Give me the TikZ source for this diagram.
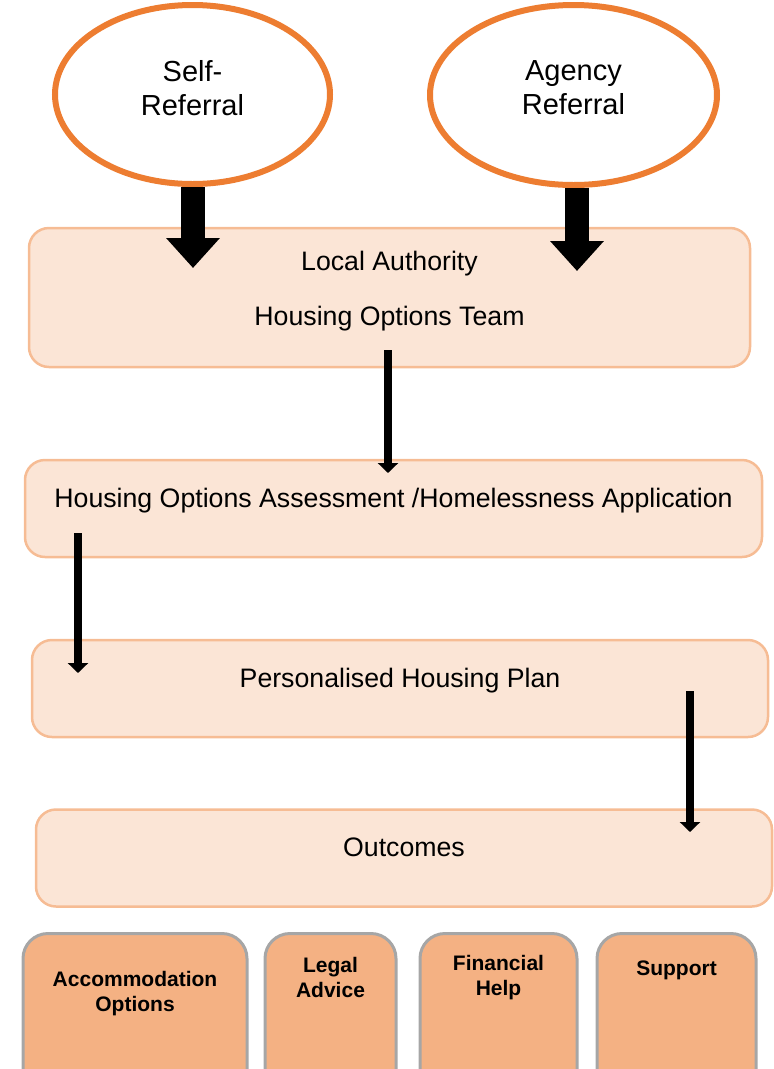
\documentclass[tikz,border=0pt]{standalone}
\usepackage{fontspec}
\setmainfont{Liberation Sans}
\usepackage{xcolor}
\usetikzlibrary{shapes.geometric}
\usetikzlibrary{arrows.meta}
\definecolor{refline}{HTML}{ED7D31}
\definecolor{stagefill}{HTML}{FBE5D6}
\definecolor{stageline}{HTML}{F6BC94}
\definecolor{optfill}{HTML}{F4B183}
\definecolor{optline}{HTML}{A6A6A6}
\tikzset{
referral/.style={
  ellipse,
  draw=refline,
  line width=6pt,
  fill=white,
  inner sep=0pt,
  minimum width=275pt,
  minimum height=179pt
},
reflabel/.style={inner sep=0pt,align=center,anchor=north,yshift=-58pt,font=\fontsize{29}{34}\selectfont},
stage/.style={
  rectangle,
  rounded corners=20pt,
  draw=stageline,
  line width=2.5pt,
  fill=stagefill,
  inner sep=0pt,
  minimum height=97pt,
  font=\fontsize{26.7}{31}\selectfont
},
oneline/.style={text height=19pt,text depth=22pt},
option/.style={
  rectangle,
  rounded corners=25pt,
  draw=optline,
  line width=3pt,
  fill=optfill,
  inner sep=0pt,
  anchor=north,
  minimum height=180pt
},
optlabel/.style={inner sep=0pt,align=center,anchor=north,font=\bfseries\fontsize{21}{25}\selectfont},
bigarrow/.style={line width=24pt,-{Triangle[width=52pt,length=30pt]}},
smallarrow/.style={line width=8.5pt,-{Triangle[width=20pt,length=10pt]}},
}

\begin{document}
\begin{tikzpicture}[x=1pt,y=-1pt]
\clip (0,0) rectangle (774,1069);
% the referrals
\node[referral,label={[reflabel]north:Self-\\Referral}] (self) at (192.5,94.5) {};
\node[referral,minimum width=287pt,minimum height=180pt,
  label={[reflabel]north:Agency\\Referral}] (agency) at (573.5,95) {};
% the stages
\node[stage,minimum width=721pt,minimum height=139pt,
  label={[inner sep=0pt,align=center,anchor=north,yshift=-24pt,
  font=\fontsize{26.7}{55}\selectfont]north:Local Authority\\Housing Options Team}]
  (team) at (389.5,297.5) {};
\node[stage,oneline,minimum width=737pt] (assess) at (393.5,508.5)
  {Housing Options Assessment /Homelessness Application};
\node[stage,oneline,minimum width=736pt] (plan) at (400,688.5)
  {Personalised Housing Plan};
\node[stage,oneline,minimum width=736pt] (outcomes) at (404,858)
  {Outcomes};
% the outcome boxes
\node[option,minimum width=224pt,
  label={[optlabel,yshift=-39pt]north:Accommodation\\Options}] (accom) at (135,932) {};
\node[option,minimum width=131pt,
  label={[optlabel,yshift=-25pt]north:Legal\\Advice}] (legal) at (330.5,932) {};
\node[option,minimum width=157pt,
  label={[optlabel,yshift=-23pt]north:Financial\\Help}] (money) at (498.5,932) {};
\node[option,minimum width=159pt,
  label={[optlabel,yshift=-29pt]north:Support}] (support) at (676.5,932) {};
% the arrows
\coordinate (selfstart) at (193,187);
\coordinate (selfend) at (193,268);
\coordinate (agencystart) at (577,188);
\coordinate (agencyend) at (577,271);
\coordinate (teamstart) at (388,350);
\coordinate (teamend) at (388,473);
\coordinate (assessstart) at (78,533);
\coordinate (assessend) at (78,673);
\coordinate (planstart) at (690,691);
\coordinate (planend) at (690,832);
\draw[bigarrow] (selfstart) -- (selfend);
\draw[bigarrow] (agencystart) -- (agencyend);
\draw[smallarrow] (teamstart) -- (teamend);
\draw[smallarrow] (assessstart) -- (assessend);
\draw[smallarrow] (planstart) -- (planend);
\end{tikzpicture}
\end{document}
